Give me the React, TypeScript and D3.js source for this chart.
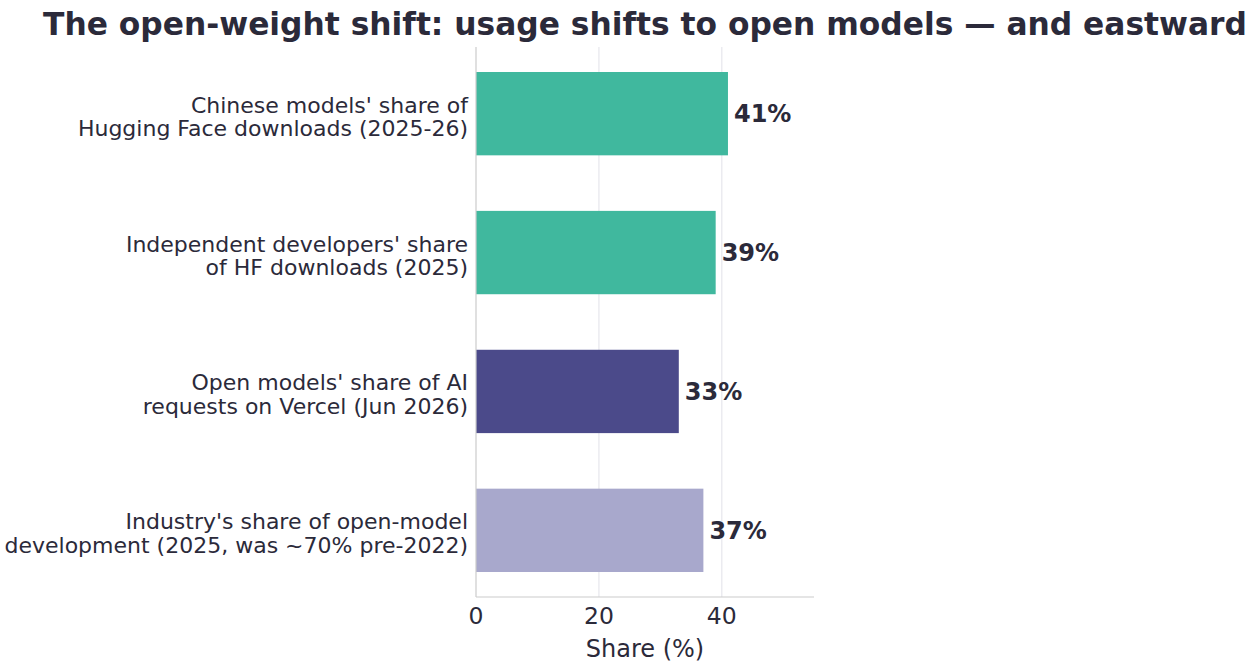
import React from 'react';
import * as d3 from 'd3';

const categories = [
  "Chinese models' share of\nHugging Face downloads (2025-26)",
  "Independent developers' share\nof HF downloads (2025)",
  "Open models' share of AI\nrequests on Vercel (Jun 2026)",
  "Industry's share of open-model\ndevelopment (2025, was ~70% pre-2022)",
];
const values = [41, 39, 33, 37];
const barColors = ['#40b89e', '#40b89e', '#4b4a8a', '#a8a8cc'];
const xTicks = [0, 20, 40];

const W = 1249;
const H = 666;
const margin = {top: 47, left: 476, right: 435, bottom: 69};
const textColor = '#2b2a3a';
const font = 'DejaVu Sans, sans-serif';

const App = () => {
  const x = d3.scaleLinear().domain([0, 55]).range([margin.left, W - margin.right]);
  const y = d3.scaleLinear().domain([-0.48, 3.48]).range([margin.top, H - margin.bottom]);
  const barH = 0.6;

  return (
    <svg width={W} height={H} style={{position: 'absolute', left: 0, top: 0}} fontFamily={font}>
      <rect width={W} height={H} fill="#fff" />
      <text x={645} y={35} textAnchor="middle" fontSize={31.3} fontWeight="bold" fill={textColor}>
        The open-weight shift: usage shifts to open models — and eastward
      </text>

      {/* grid */}
      {xTicks.filter(t => t > 0).map(t => (
        <line key={t} x1={x(t)} x2={x(t)} y1={y(-0.48)} y2={y(3.48)} stroke="#e6e6ec" strokeWidth={1.2} />
      ))}

      {/* bars */}
      {values.map((v, i) => (
        <rect key={i} x={x(0)} y={y(i - barH / 2)} width={x(v) - x(0)} height={y(i + barH / 2) - y(i - barH / 2)} fill={barColors[i]} />
      ))}

      {/* value labels */}
      {values.map((v, i) => (
        <text key={i} x={x(v) + 6} y={y(i)} dy="0.36em" fontSize={24} fontWeight="bold" fill={textColor}>
          {v}%
        </text>
      ))}

      {/* spines */}
      <line x1={x(0)} x2={x(0)} y1={y(-0.48)} y2={y(3.48)} stroke="#cccccc" strokeWidth={1.2} />
      <line x1={x(0)} x2={x(55)} y1={y(3.48)} y2={y(3.48)} stroke="#cccccc" strokeWidth={1.2} />

      {/* y labels */}
      {categories.map((c, i) => {
        const lines = c.split('\n');
        return (
          <text key={i} textAnchor="end" fontSize={22} fill={textColor}>
            {lines.map((l, j) => (
              <tspan key={j} x={x(0) - 8} y={y(i) - 1 + j * 23.4}>{l}</tspan>
            ))}
          </text>
        );
      })}

      {/* x ticks */}
      {xTicks.map(t => (
        <text key={t} x={x(t)} y={623.5} textAnchor="middle" fontSize={23.5} fill={textColor}>{t}</text>
      ))}
      <text x={(x(0) + x(55)) / 2} y={657} textAnchor="middle" fontSize={24} fill={textColor}>Share (%)</text>
    </svg>
  );
};

export default App;
